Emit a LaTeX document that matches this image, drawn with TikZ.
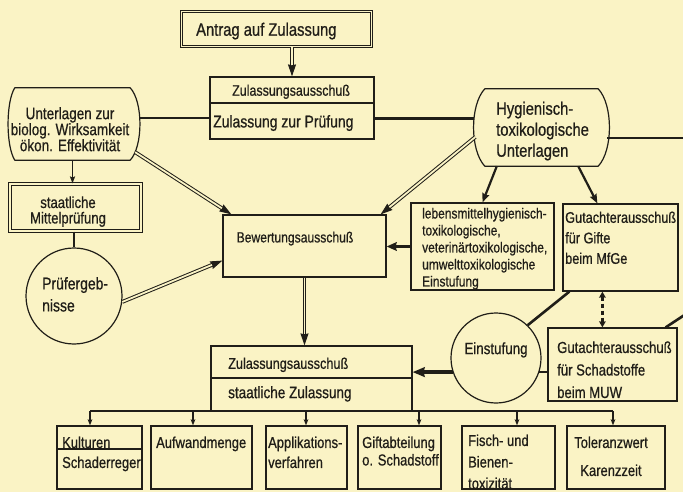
\documentclass[tikz,border=0pt]{standalone}
\usepackage{fontspec}
\setmainfont{Liberation Sans}[FakeStretch=0.82,FakeBold=0.7]
\usetikzlibrary{arrows.meta,calc}
\definecolor{bg}{RGB}{250,243,197}
\definecolor{ink}{RGB}{32,30,24}
\newcommand\fsz[2]{\fontsize{#1}{#2}\selectfont}
\newcommand\dblarrow[2]{\draw[dbl] (#1) -- (#2); \draw[dbltip] ($(#2)!11pt!(#1)$) -- (#2);}
\begin{document}
\begin{tikzpicture}[x=1pt,y=-1pt,
  box/.style={draw=ink, line width=1.2pt, inner sep=0pt},
  dbox/.style={draw=ink, line width=1pt, double=bg, double distance=1.8pt, inner sep=0pt},
  shapebox/.style={draw=none, inner sep=0pt},
  circ/.style={circle, draw=ink, line width=1.2pt, inner sep=0pt},
  txt/.style={inner sep=0pt, text=ink, align=left, anchor=north west},
  ctxt/.style={inner sep=0pt, text=ink, align=center, anchor=north},
  outline/.style={draw=ink, line width=1.2pt, line join=round},
  thickline/.style={draw=ink, line width=2.6pt},
  medline/.style={draw=ink, line width=2pt},
  busline/.style={draw=ink, line width=1.3pt},
  arr/.style={draw=ink, line width=1.5pt, -{Stealth[length=7pt,width=5pt,inset=1pt]}},
  smallarr/.style={draw=ink, line width=1.3pt, -{Stealth[length=6pt,width=4.5pt,inset=1pt]}},
  midarr/.style={draw=ink, line width=2.2pt, -{Stealth[length=9pt,width=7pt,inset=1pt]}},
  thickarr/.style={draw=ink, line width=2.8pt, -{Stealth[length=10pt,width=8.5pt,inset=1pt]}},
  bigarr/.style={draw=ink, line width=3.2pt, -{Stealth[length=12pt,width=9.5pt,inset=1pt]}},
  dbl/.style={draw=ink, line width=1pt, double=bg, double distance=1.8pt, shorten >=8pt},
  dbltip/.style={draw=ink, line width=1pt, -{Stealth[length=12pt,width=8pt,inset=1pt]}},
  dasharr/.style={draw=ink, line width=2.2pt, dash pattern=on 4pt off 3pt,
    {Stealth[length=6pt,width=6.5pt,inset=0.5pt]}-{Stealth[length=6pt,width=6.5pt,inset=0.5pt]}}
]
\fill[bg] (0,0) rectangle (683,492);
\useasboundingbox (0,0) rectangle (683,492);

% ---------- boxes ----------
\node[dbox, minimum width=190pt, minimum height=35pt] (A) at (276.5,29) {};
\node[box, minimum width=164pt, minimum height=26pt] (Z1a) at (292,90) {};
\node[box, minimum width=164pt, minimum height=36pt] (Z1b) at (292,121) {};
\node[shapebox, minimum width=115pt, minimum height=72pt] (U) at (72.5,124) {};
\node[shapebox, minimum width=113pt, minimum height=77pt] (H) at (541.5,127.5) {};
\node[dbox, minimum width=131pt, minimum height=47pt] (M) at (75.5,207.5) {};
\node[circ, minimum size=96pt] (P) at (74,296) {};
\node[box, minimum width=163pt, minimum height=62pt] (Bew) at (304.5,246) {};
\node[box, minimum width=143pt, minimum height=87pt] (L) at (482.5,246.5) {};
\node[box, minimum width=115pt, minimum height=87pt] (G) at (620.5,247.5) {};
\node[circ, minimum size=90pt] (E) at (496,358) {};
\node[box, minimum width=129pt, minimum height=73pt] (S) at (612.5,364.5) {};
\node[box, minimum width=201pt, minimum height=32pt] (Z2a) at (311.5,362) {};
\node[box, minimum width=201pt, minimum height=33pt] (Z2b) at (311.5,394.5) {};
\node[box, minimum width=85pt, minimum height=23pt] (K1a) at (99.5,437.5) {};
\node[box, minimum width=85pt, minimum height=40pt] (K1b) at (99.5,469) {};
\node[box, minimum width=101pt, minimum height=63pt] (K2) at (201.5,457.5) {};
\node[box, minimum width=81pt, minimum height=63pt] (K3) at (306.5,457.5) {};
\node[box, minimum width=83pt, minimum height=63pt] (K4) at (399.5,457.5) {};
\node[box, minimum width=93pt, minimum height=63pt] (K5) at (508.5,457.5) {};
\node[box, minimum width=98pt, minimum height=63pt] (K6) at (616,457.5) {};

% bulged outlines
\draw[outline] (U.north west) -- (U.north east)
  .. controls +(13,14) and +(13,-14) .. (U.south east) -- (U.south west)
  .. controls +(-9,-14) and +(-9,14) .. (U.north west) -- cycle;
\draw[outline] (H.north west) -- (H.north east)
  .. controls +(15,16) and +(15,-16) .. (H.south east) -- (H.south west)
  .. controls +(-15,-16) and +(-15,16) .. (H.north west) -- cycle;

% ---------- texts ----------
\node[txt, font=\fsz{18}{20}] (tA) at (196,22.5) {Antrag auf Zulassung};
\node[txt, font=\fsz{15.2}{18}] (tZ1a) at (232,84.5) {Zulassungsausschuß};
\node[txt, font=\fsz{17}{19}] (tZ1b) at (213,114.9) {Zulassung zur Prüfung};
\node[ctxt, font=\fsz{16.5}{16}] (tU) at (70,107) {Unterlagen zur\\biolog. Wirksamkeit\\ökon. Effektivität};
\node[txt, font=\fsz{18}{21}] (tH) at (496,101.5) {Hygienisch-\\toxikologische\\Unterlagen};
\node[ctxt, font=\fsz{16}{15.5}] (tM) at (68,196.2) {staatliche\\Mittelprüfung};
\node[txt, font=\fsz{17}{22}] (tP) at (42,276.9) {Prüfergeb-\\nisse};
\node[ctxt, font=\fsz{14.8}{17}] (tBew) at (295,231.5) {Bewertungsausschuß};
\node[txt, font=\fsz{14.6}{17}] (tL) at (422,207.7) {lebensmittelhygienisch-\\toxikologische,\\veterinärtoxikologische,\\umwelttoxikologische\\Einstufung};
\node[txt, font=\fsz{15.5}{20.5}] (tG) at (565,211.4) {Gutachterausschuß\\für Gifte\\beim MfGe};
\node[txt, font=\fsz{16}{22.5}] (tS) at (557,341.2) {Gutachterausschuß\\für Schadstoffe\\beim MUW};
\node[ctxt, font=\fsz{16.3}{18}] (tE) at (496,342.1) {Einstufung};
\node[txt, font=\fsz{15.5}{18}] (tZ2a) at (228,357.4) {Zulassungsausschuß};
\node[txt, font=\fsz{16.5}{18}] (tZ2b) at (228,386) {staatliche Zulassung};
\node[txt, font=\fsz{15.8}{18}] (tK1a) at (62,436.3) {Kulturen};
\node[txt, font=\fsz{15.8}{18}] (tK1b) at (62,456.3) {Schaderreger};
\node[txt, font=\fsz{15.8}{18}] (tK2) at (156,436.3) {Aufwandmenge};
\node[txt, font=\fsz{15.8}{20}] (tK3) at (268,436.3) {Applikations-\\verfahren};
\node[txt, font=\fsz{15.8}{17.5}] (tK4) at (362,436.3) {Giftabteilung\\o. Schadstoff};
\node[txt, font=\fsz{15.8}{21.5}] (tK5) at (468,434.3) {Fisch- und\\Bienen-\\toxizität};
\node[ctxt, font=\fsz{15.8}{28}] (tK6) at (611,436.3) {Toleranzwert\\Karenzzeit};

% ---------- connectors ----------
\dblarrow{A.south -| Z1a.north}{Z1a.north}
\coordinate (uR) at ($(U.east)+(9.5,-6)$);
\draw[thickline] (uR) -- (uR -| Z1b.west);
\coordinate (hL) at ($(H.west)+(-10.5,-9)$);
\draw[thickline] (hL -| Z1b.east) -- (hL);
\coordinate (hR) at ($(H.east)+(9,10.5)$);
\coordinate (edgeA) at (686,138);
\draw[thickline] (hR) -- (edgeA);

\coordinate (uB) at ($(U.south east)+(5,-8)$);
\coordinate (bTL) at ($(Bew.north west)+(9,0)$);
\dblarrow{uB}{bTL}
\draw[arr] (U.south) -- (U.south |- M.north);
\draw[medline] (M.south -| P.north) -- (P.north);
\coordinate (bL) at ($(Bew.south west)+(0,-17)$);
\dblarrow{P.-7}{bL}
\coordinate (hB) at ($(H.west)+(-9.5,9.5)$);
\coordinate (bTR) at ($(Bew.north east)+(-6,0)$);
\dblarrow{hB}{bTR}
\draw[thickarr] (L.west) -- (L.west -| Bew.east);
\draw[midarr] ($(H.south west)+(12,0)$) -- (L.north);
\draw[midarr] ($(H.south east)+(-20,0)$) -- ($(G.north west)+(35,0)$);
\draw[thickline] ($(G.south west)+(7,0)$) -- (E.46);
\draw[dasharr] ($(G.south west)+(40,0)$) -- ($(S.north west)+(55,0)$);
\coordinate (edgeB) at (686,314);
\draw[thickline] (edgeB) -- ($(S.north east)+(-12,0)$);
\draw[medline] (E.-18) -- (E.-18 -| S.west);
\draw[bigarr] (E.198) -- (E.198 -| Z2a.east);
\dblarrow{Bew.south}{Bew.south |- Z2a.north}

% bus
\coordinate (b1) at (90,411);
\coordinate (b2) at (193,411);
\coordinate (b3) at (306,411);
\coordinate (b4) at (419,411);
\coordinate (b5) at (517,411);
\coordinate (b6) at (613,411);
\draw[busline] (b1) -- (b6);
\draw[smallarr] (b1) -- (b1 |- K1a.north);
\draw[smallarr] (b2) -- (b2 |- K2.north);
\draw[smallarr] (b3) -- (b3 |- K3.north);
\draw[smallarr] (b4) -- (b4 |- K4.north);
\draw[smallarr] (b5) -- (b5 |- K5.north);
\draw[smallarr] (b6) -- (b6 |- K6.north);
\end{tikzpicture}
\end{document}
